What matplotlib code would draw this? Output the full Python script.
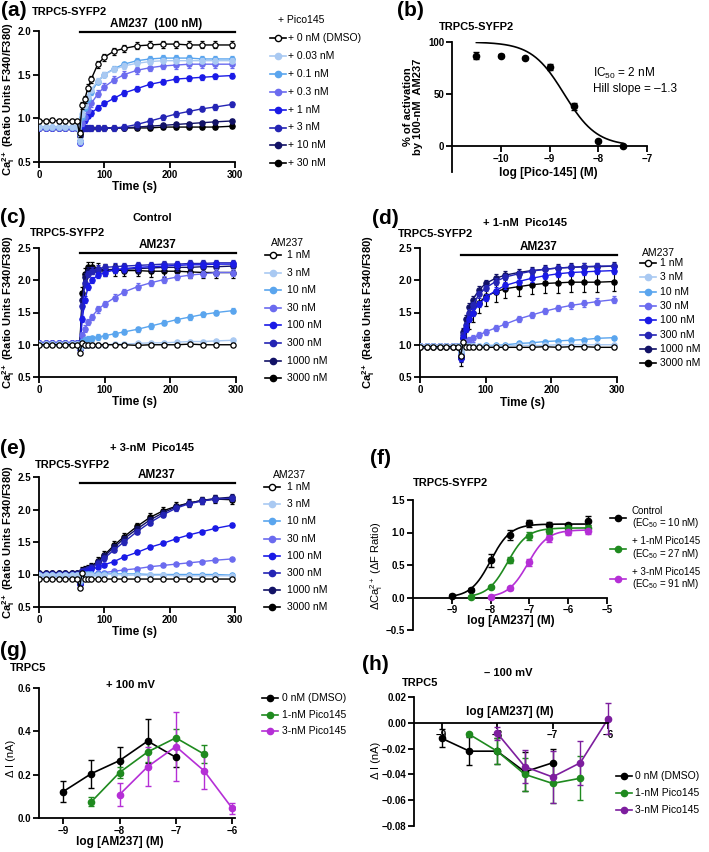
import numpy as np
import matplotlib.pyplot as plt
from matplotlib.lines import Line2D
from matplotlib.ticker import FuncFormatter

plt.rcParams['font.family'] = ['Liberation Sans', 'DejaVu Sans']
plt.rcParams['mathtext.fontset'] = 'custom'
plt.rcParams['mathtext.rm'] = 'Liberation Sans'
plt.rcParams['mathtext.it'] = 'Liberation Sans:italic'
plt.rcParams['mathtext.bf'] = 'Liberation Sans:bold'

# ---------------- data ----------------
# time base (s) shared by the Ca2+ traces; AM237 applied at ~62 s
time_s = [0, 10, 20, 30, 40, 50, 58, 62, 66, 70, 75, 80, 90, 100, 115, 130,
          150, 170, 190, 210, 230, 250, 270, 296]
t_application = 62

trace_colors = ['black', '#a9c9f2', '#5aa5ee', '#6b6bef', '#1a1ae6',
                '#2424b4', '#121266', 'black']

a_labels = ['+ 0 nM (DMSO)', '+ 0.03 nM', '+ 0.1 nM', '+ 0.3 nM', '+ 1 nM',
            '+ 3 nM', '+ 10 nM', '+ 30 nM']
am_labels = ['1 nM', '3 nM', '10 nM', '30 nM', '100 nM', '300 nM',
             '1000 nM', '3000 nM']

# (a) AM237 100 nM + Pico145
a_traces = [
    [0.97, 0.97, 0.98, 0.97, 0.97, 0.97, 0.97, 0.83, 1.15, 1.22, 1.35, 1.45, 1.62, 1.70, 1.77, 1.80, 1.83, 1.84, 1.85, 1.85, 1.84, 1.84, 1.84, 1.84],
    [0.90, 0.90, 0.90, 0.90, 0.90, 0.90, 0.90, 0.74, 1.05, 1.15, 1.25, 1.33, 1.43, 1.50, 1.56, 1.60, 1.63, 1.65, 1.66, 1.66, 1.66, 1.66, 1.66, 1.66],
    [0.90, 0.90, 0.90, 0.90, 0.90, 0.90, 0.90, 0.74, 1.02, 1.12, 1.22, 1.30, 1.42, 1.50, 1.57, 1.62, 1.66, 1.68, 1.69, 1.69, 1.69, 1.68, 1.68, 1.68],
    [0.89, 0.89, 0.89, 0.89, 0.89, 0.89, 0.89, 0.73, 0.95, 1.02, 1.10, 1.17, 1.28, 1.36, 1.44, 1.50, 1.55, 1.58, 1.60, 1.61, 1.62, 1.62, 1.62, 1.62],
    [0.89, 0.89, 0.89, 0.89, 0.89, 0.89, 0.89, 0.72, 0.92, 0.98, 1.03, 1.06, 1.12, 1.17, 1.23, 1.29, 1.34, 1.39, 1.42, 1.45, 1.46, 1.47, 1.48, 1.49],
    [0.89, 0.89, 0.89, 0.89, 0.89, 0.89, 0.89, 0.74, 0.88, 0.89, 0.89, 0.89, 0.89, 0.89, 0.89, 0.90, 0.93, 0.97, 1.01, 1.05, 1.08, 1.11, 1.13, 1.16],
    [0.89, 0.89, 0.89, 0.89, 0.89, 0.89, 0.89, 0.80, 0.89, 0.89, 0.89, 0.89, 0.89, 0.89, 0.89, 0.89, 0.90, 0.91, 0.92, 0.93, 0.94, 0.95, 0.96, 0.97],
    [0.89, 0.89, 0.89, 0.89, 0.89, 0.89, 0.89, 0.82, 0.89, 0.89, 0.89, 0.89, 0.89, 0.89, 0.89, 0.89, 0.89, 0.89, 0.90, 0.90, 0.90, 0.90, 0.90, 0.91],
]
a_err_base = [0.02, 0.01, 0.01, 0.01, 0.01, 0.01, 0.01, 0.01]
a_err_resp = [0.04, 0.03, 0.03, 0.04, 0.03, 0.03, 0.02, 0.02]

# (c) AM237 concentration series, control
c_traces = [
    [1.00, 1.00, 1.00, 1.00, 1.00, 1.00, 1.00, 0.87, 1.03, 1.00, 1.00, 1.00, 1.00, 1.00, 1.00, 1.00, 0.99, 1.00, 1.00, 1.00, 1.01, 1.00, 1.00, 1.00],
    [1.01, 1.01, 1.01, 1.01, 1.01, 1.01, 1.01, 0.95, 1.00, 1.00, 1.00, 1.00, 1.00, 1.00, 1.01, 1.01, 1.02, 1.03, 1.03, 1.04, 1.05, 1.05, 1.06, 1.07],
    [1.01, 1.01, 1.01, 1.01, 1.01, 1.01, 1.01, 0.95, 1.05, 1.08, 1.09, 1.10, 1.12, 1.14, 1.17, 1.20, 1.24, 1.29, 1.34, 1.39, 1.43, 1.47, 1.50, 1.53],
    [1.02, 1.02, 1.02, 1.02, 1.02, 1.02, 1.02, 0.95, 1.15, 1.25, 1.35, 1.43, 1.55, 1.63, 1.73, 1.82, 1.90, 1.96, 2.01, 2.05, 2.08, 2.10, 2.12, 2.12],
    [1.03, 1.03, 1.03, 1.03, 1.03, 1.03, 1.03, 0.93, 1.40, 1.70, 1.90, 2.00, 2.08, 2.12, 2.16, 2.18, 2.20, 2.21, 2.22, 2.23, 2.24, 2.24, 2.25, 2.25],
    [1.03, 1.03, 1.03, 1.03, 1.03, 1.03, 1.03, 0.93, 1.60, 1.95, 2.10, 2.15, 2.18, 2.20, 2.21, 2.22, 2.23, 2.24, 2.25, 2.25, 2.26, 2.26, 2.27, 2.27],
    [1.02, 1.02, 1.02, 1.02, 1.02, 1.02, 1.02, 0.95, 1.70, 2.05, 2.15, 2.15, 2.15, 2.16, 2.17, 2.17, 2.18, 2.19, 2.20, 2.20, 2.20, 2.21, 2.21, 2.22],
    [1.01, 1.01, 1.01, 1.01, 1.01, 1.01, 1.01, 0.97, 1.80, 2.10, 2.20, 2.20, 2.18, 2.16, 2.16, 2.15, 2.15, 2.14, 2.14, 2.14, 2.13, 2.12, 2.12, 2.12],
]
c_err_base = [0.01, 0.01, 0.01, 0.01, 0.02, 0.02, 0.02, 0.02]
c_err_resp = [0.02, 0.02, 0.04, 0.05, 0.05, 0.05, 0.06, 0.09]

# (d) + 1-nM Pico145
d_traces = [
    [0.97, 0.97, 0.97, 0.97, 0.97, 0.97, 0.97, 0.83, 1.05, 0.97, 0.97, 0.96, 0.96, 0.96, 0.96, 0.96, 0.96, 0.96, 0.97, 0.96, 0.97, 0.97, 0.96, 0.96],
    [0.98, 0.98, 0.98, 0.98, 0.98, 0.98, 0.98, 0.90, 0.98, 0.98, 0.98, 0.98, 0.98, 0.98, 0.98, 0.98, 0.99, 0.99, 0.99, 1.00, 1.00, 1.00, 1.00, 1.00],
    [0.98, 0.98, 0.98, 0.98, 0.98, 0.98, 0.98, 0.88, 0.98, 0.98, 0.98, 0.98, 0.98, 0.99, 0.99, 1.00, 1.02, 1.03, 1.05, 1.06, 1.07, 1.08, 1.10, 1.11],
    [0.98, 0.98, 0.98, 0.98, 0.98, 0.98, 0.98, 0.85, 1.02, 1.04, 1.07, 1.10, 1.15, 1.20, 1.26, 1.32, 1.40, 1.46, 1.52, 1.57, 1.61, 1.64, 1.67, 1.70],
    [0.98, 0.98, 0.98, 0.98, 0.98, 0.98, 0.98, 0.80, 1.10, 1.25, 1.40, 1.50, 1.63, 1.73, 1.84, 1.92, 1.98, 2.03, 2.07, 2.10, 2.12, 2.13, 2.14, 2.15],
    [0.98, 0.98, 0.98, 0.98, 0.98, 0.98, 0.98, 0.80, 1.15, 1.30, 1.50, 1.62, 1.78, 1.88, 1.98, 2.05, 2.10, 2.14, 2.17, 2.19, 2.20, 2.21, 2.22, 2.22],
    [0.98, 0.98, 0.98, 0.98, 0.98, 0.98, 0.98, 0.80, 1.20, 1.40, 1.58, 1.70, 1.85, 1.95, 2.03, 2.08, 2.12, 2.15, 2.17, 2.19, 2.20, 2.21, 2.21, 2.22],
    [0.97, 0.97, 0.97, 0.97, 0.97, 0.97, 0.97, 0.82, 1.10, 1.25, 1.40, 1.50, 1.65, 1.75, 1.82, 1.87, 1.90, 1.93, 1.95, 1.96, 1.97, 1.97, 1.97, 1.98],
]
d_err_base = [0.01, 0.01, 0.01, 0.01, 0.01, 0.01, 0.01, 0.02]
d_err_resp = [0.02, 0.02, 0.02, 0.05, 0.05, 0.05, 0.06, 0.15]

# (e) + 3-nM Pico145
e_traces = [
    [0.93, 0.93, 0.93, 0.93, 0.93, 0.93, 0.93, 0.80, 1.02, 0.93, 0.93, 0.93, 0.93, 0.93, 0.93, 0.93, 0.93, 0.93, 0.93, 0.93, 0.93, 0.93, 0.93, 0.93],
    [1.00, 1.00, 1.00, 1.00, 1.00, 1.00, 1.00, 0.92, 1.00, 1.00, 1.00, 1.00, 1.00, 1.00, 1.00, 0.99, 0.99, 0.99, 0.99, 0.98, 0.98, 0.98, 0.98, 0.98],
    [1.00, 1.00, 1.00, 1.00, 1.00, 1.00, 1.00, 0.90, 1.01, 1.01, 1.01, 1.01, 1.01, 1.01, 1.01, 1.01, 1.01, 1.00, 1.00, 1.00, 1.00, 1.00, 1.00, 0.99],
    [1.00, 1.00, 1.00, 1.00, 1.00, 1.00, 1.00, 0.88, 1.00, 1.00, 1.01, 1.01, 1.02, 1.03, 1.05, 1.07, 1.09, 1.12, 1.14, 1.16, 1.18, 1.20, 1.22, 1.24],
    [1.00, 1.00, 1.00, 1.00, 1.00, 1.00, 1.00, 0.86, 1.03, 1.04, 1.06, 1.08, 1.11, 1.15, 1.20, 1.27, 1.34, 1.42, 1.48, 1.55, 1.61, 1.66, 1.71, 1.76],
    [1.01, 1.01, 1.01, 1.01, 1.01, 1.01, 1.01, 0.86, 1.05, 1.06, 1.08, 1.10, 1.17, 1.25, 1.38, 1.50, 1.66, 1.80, 1.92, 2.02, 2.09, 2.13, 2.16, 2.17],
    [1.02, 1.02, 1.02, 1.02, 1.02, 1.02, 1.02, 0.87, 1.05, 1.06, 1.08, 1.11, 1.19, 1.28, 1.42, 1.55, 1.70, 1.84, 1.95, 2.04, 2.10, 2.14, 2.17, 2.19],
    [1.02, 1.02, 1.02, 1.02, 1.02, 1.02, 1.02, 0.88, 1.05, 1.07, 1.09, 1.12, 1.21, 1.30, 1.45, 1.58, 1.74, 1.88, 1.98, 2.05, 2.10, 2.14, 2.16, 2.15],
]
e_err_base = [0.01, 0.01, 0.01, 0.01, 0.01, 0.01, 0.01, 0.01]
e_err_resp = [0.02, 0.02, 0.02, 0.02, 0.03, 0.04, 0.05, 0.06]

# (b) inhibition by Pico-145
b_logc = [-10.5, -10.0, -9.5, -9.0, -8.5, -8.0, -7.5]
b_pct = [87, 87, 85, 76, 38, 5, 0]
b_err = [3, 1, 1, 3, 3, 1, 1]
b_log_ic50 = np.log10(2e-9)
b_hill = -1.3

# (f) AM237 concentration-response
f_logc_ctrl = [-9.0, -8.5, -8.0, -7.5, -7.0, -6.5, -6.0, -5.5]
f_ctrl = [0.03, 0.12, 0.57, 0.96, 1.14, 1.11, 1.12, 1.18]
f_ctrl_err = [0.02, 0.02, 0.10, 0.08, 0.06, 0.05, 0.03, 0.07]
f_logc_p1 = [-8.5, -8.0, -7.5, -7.0, -6.5, -6.0, -5.5]
f_p1 = [0.01, 0.16, 0.58, 0.95, 1.02, 1.07, 1.07]
f_p1_err = [0.01, 0.02, 0.05, 0.06, 0.04, 0.03, 0.05]
f_logc_p3 = [-8.0, -7.5, -7.0, -6.5, -6.0, -5.5]
f_p3 = [0.01, 0.14, 0.54, 0.91, 1.01, 1.02]
f_p3_err = [0.01, 0.02, 0.05, 0.05, 0.05, 0.05]
f_log_ec50 = [-8.0, np.log10(27e-9), np.log10(91e-9)]
f_top = [1.13, 1.07, 1.04]
f_hill = 1.7

# (g) +100 mV currents
g_logc_ctrl = [-9.0, -8.5, -8.0, -7.5, -7.0]
g_ctrl = [0.122, 0.205, 0.265, 0.355, 0.280]
g_ctrl_err = [0.050, 0.065, 0.065, 0.100, 0.045]
g_logc_p1 = [-8.5, -8.0, -7.5, -7.0, -6.5]
g_p1 = [0.075, 0.210, 0.305, 0.370, 0.295]
g_p1_err = [0.020, 0.025, 0.045, 0.040, 0.040]
g_logc_p3 = [-8.0, -7.5, -7.0, -6.5, -6.0]
g_p3 = [0.108, 0.237, 0.330, 0.218, 0.045]
g_p3_err = [0.052, 0.090, 0.160, 0.085, 0.025]

# (h) -100 mV currents (same concentrations as g)
h_ctrl = [-0.012, -0.022, -0.022, -0.038, -0.031]
h_ctrl_err = [0.007, 0.011, 0.010, 0.015, 0.011]
h_p1 = [-0.009, -0.022, -0.040, -0.047, -0.043]
h_p1_err = [0.001, 0.010, 0.013, 0.015, 0.017]
h_p3 = [-0.008, -0.034, -0.042, -0.031, 0.003]
h_p3_err = [0.005, 0.013, 0.020, 0.017, 0.012]

iv_labels = ['0 nM (DMSO)', '1-nM Pico145', '3-nM Pico145']
GREEN = '#1f8a1f'
MAGENTA = '#b52fd6'
PURPLE = '#7d1e9e'

# ---------------- figure ----------------
W, H = 709, 852
fig = plt.figure(figsize=(W / 100, H / 100), dpi=100)


def add_ax(l, t, r, b):
    return fig.add_axes([l / W, 1 - b / H, (r - l) / W, (b - t) / H])


def ftext(x, y, s, **kw):
    kw.setdefault('va', 'center')
    return fig.text(x / W, 1 - y / H, s, **kw)


def minus_fmt(fmt):
    def f(v, pos):
        if abs(v) < 1e-12:
            v = 0.0
        return fmt.format(v).replace('-', '\u2212')
    return FuncFormatter(f)


def style(ax):
    for s in ['top', 'right']:
        ax.spines[s].set_visible(False)
    for s in ['left', 'bottom']:
        ax.spines[s].set_linewidth(1.3)
    ax.tick_params(width=1.3, length=4, labelsize=7, pad=1.5)
    for lab in ax.get_xticklabels() + ax.get_yticklabels():
        lab.set_fontweight('bold')


def key(x, y, dy, labels, colors, faces, fontsize=7.5, tx=None):
    tx = x + 14 if tx is None else tx
    for k, lab in enumerate(labels):
        yy = 1 - (y + k * dy) / H
        fig.add_artist(Line2D([(x - 8) / W, (x + 8) / W], [yy, yy],
                              color=colors[k], lw=1.2))
        fig.add_artist(Line2D([x / W], [yy], marker='o', ms=4.5,
                              mfc=faces[k], mec=colors[k], color=colors[k]))
        fig.text(tx / W, yy, lab, va='center', fontsize=fontsize,
                 linespacing=1.05)


def draw_traces(ax, traces, err_base, err_resp, ytop, bar_y, text_y, bar_text):
    for i in reversed(range(len(traces))):
        face = 'white' if i == 0 else trace_colors[i]
        yerr = [err_base[i] if t < t_application else err_resp[i] for t in time_s]
        ax.errorbar(time_s, traces[i], yerr=yerr, color=trace_colors[i],
                    marker='o', ms=3.8, mfc=face, mec=trace_colors[i],
                    mew=0.9, lw=1.0, elinewidth=0.8, capsize=1.5,
                    zorder=3 + (8 - i))
    ax.set_xlim(0, 300)
    ax.set_ylim(0.5, ytop)
    ax.set_xticks([0, 100, 200, 300])
    ax.set_yticks(np.arange(0.5, ytop + 0.01, 0.5))
    ax.yaxis.set_major_formatter(minus_fmt('{:.1f}'))
    ax.plot([62, 300], [bar_y, bar_y], color='black', lw=1.6, clip_on=False)
    ax.text(180, text_y, bar_text, ha='center', va='center',
            fontweight='bold', fontsize=8.5, clip_on=False)
    style(ax)


ca_label = r'$\mathbf{Ca^{2+}_{i}}$ (Ratio Units F340/F380)'
trace_faces = ['white'] + trace_colors[1:]
YL = dict(rotation=90, ha='center', fontsize=8, fontweight='bold')

# (a)
ax_a = add_ax(39, 31, 235, 162)
draw_traces(ax_a, a_traces, a_err_base, a_err_resp, 2.0, 1.99, 2.08, 'AM237  (100 nM)')
ftext(1, 10, '(a)', fontsize=15, fontweight='bold')
ftext(32, 12, 'TRPC5-SYFP2', fontsize=8, fontweight='bold')
ftext(9, 99, ca_label, **YL)
ftext(135, 187, 'Time (s)', ha='center', fontsize=8.5, fontweight='bold')
ftext(278, 20, '+ Pico145', fontsize=7.5)
key(278, 38, 17.9, a_labels, trace_colors, trace_faces, tx=288)

# (c)
ax_c = add_ax(39, 248, 236, 377)
draw_traces(ax_c, c_traces, c_err_base, c_err_resp, 2.5, 2.42, 2.55, 'AM237')
ftext(0, 217, '(c)', fontsize=15, fontweight='bold')
ftext(152, 218, 'Control', ha='center', fontsize=8, fontweight='bold')
ftext(30, 233, 'TRPC5-SYFP2', fontsize=8, fontweight='bold')
ftext(9, 312, ca_label, **YL)
ftext(135, 402, 'Time (s)', ha='center', fontsize=8.5, fontweight='bold')
ftext(271, 243, 'AM237', fontsize=7.5)
key(273, 255, 17.6, am_labels, trace_colors, trace_faces, tx=287)

# (d)
ax_d = add_ax(420, 248, 617, 377)
draw_traces(ax_d, d_traces, d_err_base, d_err_resp, 2.5, 2.39, 2.51, 'AM237')
ftext(372, 218, '(d)', fontsize=15, fontweight='bold')
ftext(525, 223, '+ 1-nM  Pico145', ha='center', fontsize=8, fontweight='bold')
ftext(398, 234, 'TRPC5-SYFP2', fontsize=8, fontweight='bold')
ftext(369, 312, ca_label, **YL)
ftext(522, 403, 'Time (s)', ha='center', fontsize=8.5, fontweight='bold')
ftext(642, 253, 'AM237', fontsize=7.5)
key(648, 263, 14.3, am_labels, trace_colors, trace_faces, tx=660)

# (e)
ax_e = add_ax(39, 477, 235, 607)
draw_traces(ax_e, e_traces, e_err_base, e_err_resp, 2.5, 2.41, 2.53, 'AM237')
ftext(0, 448, '(e)', fontsize=15, fontweight='bold')
ftext(152, 448, '+ 3-nM  Pico145', ha='center', fontsize=8, fontweight='bold')
ftext(35, 465, 'TRPC5-SYFP2', fontsize=8, fontweight='bold')
ftext(9, 542, ca_label, **YL)
ftext(135, 632, 'Time (s)', ha='center', fontsize=8.5, fontweight='bold')
ftext(273, 475, 'AM237', fontsize=7.5)
key(272, 487, 17.2, am_labels, trace_colors, trace_faces, tx=287)

# (b)
ax_b = add_ax(452, 42, 647, 172)
ax_b.errorbar(b_logc, b_pct, yerr=b_err, fmt='o', color='black', ms=4.5,
              capsize=2, elinewidth=1, clip_on=False, zorder=4)
xs = np.linspace(-10.5, -7.5, 200)
ax_b.plot(xs, 100 / (1 + 10 ** ((b_log_ic50 - xs) * b_hill)), color='black', lw=1.2)
ax_b.set_xlim(-11, -7)
ax_b.set_ylim(-25, 100)
ax_b.set_xticks([-10, -9, -8, -7])
ax_b.set_yticks([0, 50, 100])
ax_b.spines['bottom'].set_position(('data', 0))
style(ax_b)
ftext(397, 10, '(b)', fontsize=15, fontweight='bold')
ftext(439, 27, 'TRPC5-SYFP2', fontsize=8, fontweight='bold')
ftext(413, 107, '% of activation\nby 100-nM  AM237', rotation=90, ha='center',
      fontsize=8, fontweight='bold', linespacing=1.1)
ftext(548, 173, 'log [Pico-145] (M)', ha='center', fontsize=8.5, fontweight='bold')
ftext(593, 73, r'IC$_{50}$ = 2 nM', fontsize=8.5)
ftext(593, 89, 'Hill slope = \u20131.3', fontsize=8.5)

# (f)
ax_f = add_ax(413, 500, 607, 630)
f_sets = [(f_logc_ctrl, f_ctrl, f_ctrl_err, 'black'),
          (f_logc_p1, f_p1, f_p1_err, GREEN),
          (f_logc_p3, f_p3, f_p3_err, MAGENTA)]
for k, (lx, ly, le, col) in enumerate(f_sets):
    ax_f.errorbar(lx, ly, yerr=le, fmt='o', color=col, ms=4.5, capsize=2,
                  elinewidth=1, zorder=4)
    xs = np.linspace(lx[0], -5.5, 200)
    ax_f.plot(xs, f_top[k] / (1 + 10 ** ((f_log_ec50[k] - xs) * f_hill)),
              color=col, lw=1.2)
ax_f.set_xlim(-10, -5)
ax_f.set_ylim(-0.5, 1.5)
ax_f.set_xticks([-9, -8, -7, -6, -5])
ax_f.set_yticks([-0.5, 0.0, 0.5, 1.0, 1.5])
ax_f.yaxis.set_major_formatter(minus_fmt('{:.1f}'))
ax_f.spines['bottom'].set_position(('data', 0))
style(ax_f)
ftext(370, 458, '(f)', fontsize=15, fontweight='bold')
ftext(413, 483, 'TRPC5-SYFP2', fontsize=8, fontweight='bold')
ftext(377, 566, r'$\Delta$Ca$^{2+}_{\mathrm{i}}$ ($\Delta$F Ratio)', rotation=90,
      ha='center', fontsize=8)
ftext(511, 621, 'log [AM237] (M)', ha='center', fontsize=8.5, fontweight='bold')
key(618, 518, 30.5,
    ['Control\n(EC$_{50}$ = 10 nM)', '+ 1-nM Pico145\n(EC$_{50}$ = 27 nM)',
     '+ 3-nM Pico145\n(EC$_{50}$ = 91 nM)'],
    ['black', GREEN, MAGENTA], ['black', GREEN, MAGENTA], fontsize=7, tx=632)

# (g)
ax_g = add_ax(39, 688, 235, 818)
g_sets = [(g_logc_ctrl, g_ctrl, g_ctrl_err, 'black'),
          (g_logc_p1, g_p1, g_p1_err, GREEN),
          (g_logc_p3, g_p3, g_p3_err, MAGENTA)]
for lx, ly, le, col in g_sets:
    ax_g.errorbar(lx, ly, yerr=le, fmt='-o', color=col, ms=4.5, capsize=2.5,
                  lw=1.2, elinewidth=1)
ax_g.set_xlim(-9.43, -5.95)
ax_g.set_ylim(0, 0.6)
ax_g.set_xticks([-9, -8, -7, -6])
ax_g.set_yticks([0.0, 0.2, 0.4, 0.6])
ax_g.yaxis.set_major_formatter(minus_fmt('{:.1f}'))
style(ax_g)
ftext(0, 651, '(g)', fontsize=15, fontweight='bold')
ftext(10, 668, 'TRPC5', fontsize=8, fontweight='bold')
ftext(130, 685, '+ 100 mV', ha='center', fontsize=8, fontweight='bold')
ftext(11, 758, '\u0394 I (nA)', rotation=90, ha='center', fontsize=8)
ftext(120, 842, 'log [AM237] (M)', ha='center', fontsize=8.5, fontweight='bold')
key(270, 698, 16.5, iv_labels, ['black', GREEN, MAGENTA],
    ['black', GREEN, MAGENTA], tx=282)

# (h)
ax_h = add_ax(414, 697, 608, 826)
h_sets = [(g_logc_ctrl, h_ctrl, h_ctrl_err, 'black'),
          (g_logc_p1, h_p1, h_p1_err, GREEN),
          (g_logc_p3, h_p3, h_p3_err, PURPLE)]
for lx, ly, le, col in h_sets:
    ax_h.errorbar(lx, ly, yerr=le, fmt='-o', color=col, ms=4.5, capsize=2.5,
                  lw=1.2, elinewidth=1, clip_on=False)
ax_h.set_xlim(-9.5, -6)
ax_h.set_ylim(-0.08, 0.02)
ax_h.set_xticks([-9, -8, -7, -6])
ax_h.set_yticks([0.02, 0.0, -0.02, -0.04, -0.06, -0.08])
ax_h.yaxis.set_major_formatter(minus_fmt('{:.2f}'))
ax_h.spines['bottom'].set_position(('data', 0))
style(ax_h)
ftext(362, 665, '(h)', fontsize=15, fontweight='bold')
ftext(402, 683, 'TRPC5', fontsize=8, fontweight='bold')
ftext(508, 673, '\u2013 100 mV', ha='center', fontsize=8, fontweight='bold')
ftext(376, 760, '\u0394 I (nA)', rotation=90, ha='center', fontsize=8)
ftext(510, 712, 'log [AM237] (M)', ha='center', fontsize=8.5, fontweight='bold')
key(624, 776, 17, iv_labels, ['black', GREEN, PURPLE],
    ['black', GREEN, PURPLE], tx=635)

fig.savefig('out.png', dpi=100)
